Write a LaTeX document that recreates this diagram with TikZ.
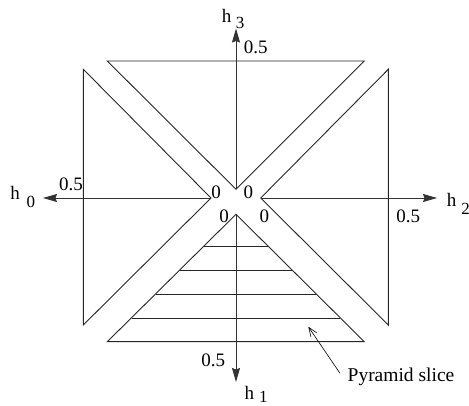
\documentclass[tikz,border=0pt]{standalone}
\usepackage{fontspec}
\setmainfont{Liberation Serif}
\usetikzlibrary{arrows.meta}
\begin{document}
\begin{tikzpicture}[x=1pt,y=-1pt,
  trishape/.style={line width=0.9pt,black!85},
  axisline/.style={line width=0.9pt,black!80},
  axarrow/.style={-{Stealth[length=14pt,width=8pt,inset=1.5pt]}},
  labtext/.style={inner sep=0pt,font=\fontsize{19}{19}\selectfont},
  sublab/.style={inner sep=0pt,font=\fontsize{17}{17}\selectfont},
  sliceline/.style={line width=0.9pt,black!85}]
\useasboundingbox (0,0) rectangle (469,406);
% triangle vertices
\coordinate (T1) at (107.3,61); \coordinate (T2) at (364.3,61); \coordinate (Ta) at (236,189.3);
\coordinate (B1) at (107.3,341.7); \coordinate (B2) at (364.3,341.7); \coordinate (Ba) at (236,214.3);
\coordinate (L1) at (83.3,69.3); \coordinate (L2) at (83.3,325); \coordinate (La) at (211,198);
\coordinate (R1) at (388.3,69.3); \coordinate (R2) at (388.3,325); \coordinate (Ra) at (260.7,198);
\draw[trishape] (T1) -- (T2) -- (Ta) -- cycle;
\draw[trishape] (B1) -- (B2) -- (Ba) -- cycle;
\draw[trishape] (L1) -- (L2) -- (La) -- cycle;
\draw[trishape] (R1) -- (R2) -- (Ra) -- cycle;
% slices
\foreach \yy in {246,270,294,318}{
  \pgfmathsetmacro{\hw}{\yy-214.3}
  \draw[sliceline] (236-\hw,\yy) -- (236+\hw,\yy);
}
% axes
\coordinate (Atop) at (236,28.5);
\coordinate (Abot) at (236,382);
\coordinate (Aleft) at (43,198);
\coordinate (Aright) at (437,198);
\draw[axisline,axarrow] (Ta) -- (Atop);
\draw[axisline,axarrow] (Ba) -- (Abot);
\draw[axisline,axarrow] (La) -- (Aleft);
\draw[axisline,axarrow] (Ra) -- (Aright);
% labels
\node[labtext] (h3) at (226.7,15.5) {h};
\node[sublab] (h3s) at (240,23) {3};
\node[labtext] (v3) at (255.7,47.3) {0.5};
\node[labtext] (h0) at (15,192.7) {h};
\node[sublab] (h0s) at (31,201.7) {0};
\node[labtext] (v0) at (71,184.3) {0.5};
\node[labtext] (h2) at (451.7,200) {h};
\node[sublab] (h2s) at (465.7,209.3) {2};
\node[labtext] (v2) at (408.3,216.7) {0.5};
\node[labtext] (v1) at (213.3,360) {0.5};
\node[labtext] (h1) at (249.3,393.3) {h};
\node[sublab] (h1s) at (263.3,396.5) {1};
\node[labtext] (z1) at (216,192.3) {0};
\node[labtext] (z2) at (248.3,192.3) {0};
\node[labtext] (z3) at (224,216.7) {0};
\node[labtext] (z4) at (264.3,216.7) {0};
\node[inner sep=0pt,font=\fontsize{19.5}{19.5}\selectfont] (ps) at (401,376.7) {Pyramid slice};
\coordinate (pstip) at (308.3,326.7);
\draw[line width=0.6pt,-{Straight Barb[length=9pt,width=7pt]}] (340,373.3) -- (pstip);
\end{tikzpicture}
\end{document}
